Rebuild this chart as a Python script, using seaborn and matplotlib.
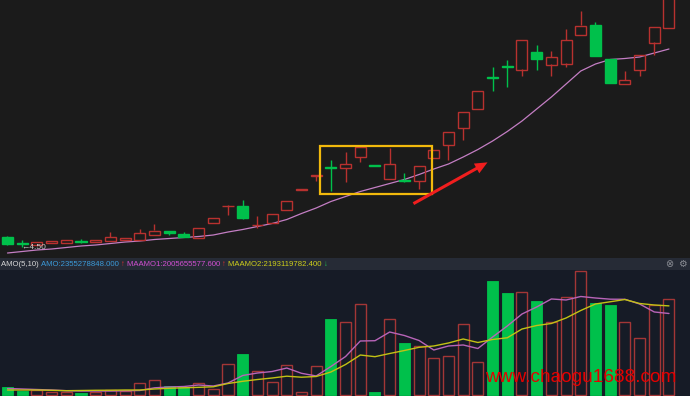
import numpy as np
import pandas as pd
import seaborn as sns
import matplotlib.pyplot as plt
from matplotlib.patches import Rectangle, FancyArrowPatch

sns.set_theme(style="dark")
plt.rcParams['font.family'] = ['Liberation Sans', 'DejaVu Sans']

# daily candles (price)
opens = [4.71, 4.58, 4.55, 4.59, 4.60, 4.63, 4.61, 4.64, 4.66, 4.65,
         4.76, 4.83, 4.77, 4.70, 5.00, 5.32, 5.33, 4.94, 4.98, 5.24,
         5.65, 5.93, 6.11, 6.08, 6.30, 6.14, 5.87, 5.84, 5.83, 6.28,
         6.56, 6.89, 7.28, 7.91, 8.12, 8.06, 8.40, 8.16, 8.18, 8.75,
         8.95, 8.28, 7.78, 8.05, 8.60, 8.90]
highs = [4.72, 4.65, 4.61, 4.63, 4.65, 4.67, 4.65, 4.81, 4.70, 4.87,
         4.96, 4.83, 4.80, 4.89, 5.09, 5.34, 5.44, 5.13, 5.18, 5.42,
         5.66, 5.94, 6.25, 6.41, 6.50, 6.14, 6.48, 5.99, 6.13, 6.45,
         6.81, 7.20, 7.64, 8.11, 8.25, 8.64, 8.55, 8.43, 8.86, 9.22,
         9.00, 8.28, 8.04, 8.35, 8.90, 9.75]
lows = [4.56, 4.50, 4.55, 4.59, 4.60, 4.59, 4.61, 4.64, 4.66, 4.65,
        4.76, 4.75, 4.71, 4.70, 5.00, 5.15, 5.06, 4.88, 4.98, 5.24,
        5.65, 5.83, 5.62, 5.80, 6.20, 6.13, 5.87, 5.81, 5.68, 6.28,
        6.24, 6.65, 7.28, 7.63, 7.70, 7.93, 8.05, 7.93, 8.10, 8.75,
        8.34, 7.80, 7.78, 7.93, 8.35, 8.90]
closes = [4.57, 4.57, 4.61, 4.63, 4.65, 4.62, 4.65, 4.70, 4.70, 4.79,
          4.84, 4.78, 4.72, 4.89, 5.09, 5.33, 5.10, 4.95, 5.18, 5.42,
          5.66, 5.94, 6.08, 6.17, 6.50, 6.13, 6.16, 5.83, 6.13, 6.45,
          6.81, 7.20, 7.64, 7.90, 8.11, 8.64, 8.28, 8.31, 8.64, 8.94,
          8.34, 7.80, 7.85, 8.35, 8.90, 9.75]
price_ma = [4.39, 4.42, 4.45, 4.47, 4.50, 4.53, 4.55, 4.58, 4.61, 4.63,
            4.66, 4.68, 4.70, 4.72, 4.75, 4.81, 4.86, 4.92, 4.98, 5.06,
            5.18, 5.29, 5.42, 5.52, 5.62, 5.70, 5.78, 5.86, 5.96, 6.07,
            6.17, 6.31, 6.46, 6.63, 6.82, 7.03, 7.27, 7.51, 7.77, 8.03,
            8.17, 8.26, 8.28, 8.31, 8.39, 8.47]

# turnover amount (unit: 1e8 yuan) and its moving averages
amo = [2.04, 1.06, 1.23, 0.81, 0.74, 0.57, 0.81, 1.23, 0.91, 2.88,
       3.69, 2.21, 1.89, 2.88, 1.40, 7.56, 10.09, 5.91, 3.20, 7.31,
       0.66, 7.14, 18.63, 18.04, 22.40, 0.81, 18.63, 12.72, 12.06, 9.11,
       9.60, 17.47, 8.20, 28.13, 25.03, 25.35, 23.13, 18.04, 24.19, 30.52,
       22.57, 22.22, 18.04, 13.95, 22.15, 23.55278848]
amo_ma1 = [1.60, 1.48, 1.35, 1.23, 1.06, 0.98, 0.98, 0.98, 1.03, 1.11,
           1.77, 1.97, 2.09, 2.46, 2.21, 2.95, 4.80, 5.41, 5.78, 6.64,
           5.34, 4.68, 7.01, 9.47, 13.29, 13.36, 15.50, 14.64, 13.41, 11.07,
           12.06, 12.31, 11.44, 14.27, 16.98, 19.93, 21.66, 23.63, 23.38, 24.24,
           23.87, 23.58, 23.55, 22.40, 20.43, 20.056555776]
amo_ma2 = [1.23, 1.23, 1.23, 1.16, 1.06, 1.11, 1.16, 1.18, 1.23, 1.23,
           1.48, 1.65, 1.77, 1.89, 2.02, 2.83, 3.37, 3.81, 4.18, 4.63,
           4.38, 4.55, 5.66, 7.51, 9.84, 9.43, 10.21, 10.95, 11.74, 12.06,
           12.80, 13.78, 12.92, 13.66, 14.08, 16.24, 17.10, 17.60, 18.95, 20.80,
           22.40, 22.94, 23.50, 22.52, 22.15, 21.931197824]

# annotations drawn on the picture (data coords)
box_x, box_y, box_w, box_h = 21.26, 5.57, 7.6, 0.95
arrow_from, arrow_to = (27.45, 5.35), (32.82, 6.23)

RED = "#b8312f"
GREEN = "#00c04b"
W, H = 690, 396

df = pd.DataFrame({"open": opens, "high": highs, "low": lows, "close": closes,
                   "ma": price_ma, "amo": amo, "ma1": amo_ma1, "ma2": amo_ma2})
df["idx"] = np.arange(len(df))
df["up"] = df["close"] >= df["open"]

fig = plt.figure(figsize=(W / 100, H / 100), dpi=100, facecolor="#262b36")
ax = fig.add_axes([0, (H - 258) / H, 1, 258 / H], facecolor="#1b1b1b")
axv = fig.add_axes([0, 0, 1, 126 / H], facecolor="#161b26")

for a in (ax, axv):
    a.set_xlim(-0.51, 46.43)
    a.set_xticks([])
    a.set_yticks([])
    a.grid(False)
    for s in a.spines.values():
        s.set_visible(False)

ax.set_ylim(4.29, 9.45)
axv.set_ylim(-0.246, 30.76)

# moving average under the candles
sns.lineplot(data=df, x="idx", y="ma", ax=ax, color="#c47ec4", lw=0.9, zorder=1)

# candles
body_lo = df[["open", "close"]].min(axis=1)
body_hi = df[["open", "close"]].max(axis=1)
body_h = (body_hi - body_lo).clip(lower=0.012)
up = df["up"]
wick_col = np.where(up, RED, GREEN)
ax.vlines(df["idx"], body_hi, df["high"], color=wick_col, lw=1, zorder=2)
ax.vlines(df["idx"], df["low"], body_lo, color=wick_col, lw=1, zorder=2)
ax.bar(df["idx"][up], body_h[up], bottom=body_lo[up], width=0.75,
       facecolor="none", edgecolor=RED, lw=1, zorder=3)
ax.bar(df["idx"][~up], body_h[~up], bottom=body_lo[~up], width=0.75,
       facecolor=GREEN, edgecolor=GREEN, lw=1, zorder=3)

# lowest price marker
low_i = int(df["low"].idxmin())
ax.text(low_i - 0.05, df["low"].min(), "\u2190" + f"{df['low'].min():.2f}",
        ha="left", va="center", fontsize=6, color="#c8c8c8", zorder=4)

ax.add_patch(Rectangle((box_x, box_y), box_w, box_h, fill=False,
                       edgecolor="#f2b90c", lw=1.6, zorder=5))
ax.add_patch(FancyArrowPatch(arrow_from, arrow_to, mutation_scale=1,
                             arrowstyle="simple,head_length=9,head_width=8,tail_width=2.2",
                             color="#f01e1e", lw=0, zorder=5))

# amount panel
axv.bar(df["idx"][up], df["amo"][up], width=0.75, facecolor="none",
        edgecolor="#a33636", lw=1, zorder=2)
axv.bar(df["idx"][~up], df["amo"][~up], width=0.75, facecolor=GREEN,
        edgecolor=GREEN, lw=0.6, zorder=2)
sns.lineplot(data=df, x="idx", y="ma1", ax=axv, color="#b864b8", lw=1, zorder=3)
sns.lineplot(data=df, x="idx", y="ma2", ax=axv, color="#c2c214", lw=1, zorder=3)
for a in (ax, axv):
    a.set_xlabel("")
    a.set_ylabel("")

axv.text(485 / W, 14 / 126, "www.chaogu1688.com", transform=axv.transAxes,
         fontsize=13.7, color="#e60000", ha="left", va="baseline", zorder=6)

# header line of the amount panel, each piece chained after the previous one
pieces = [("AMO(5,10) ", "#d8d8d8"),
          (f"AMO:{amo[-1] * 1e8:.3f} ", "#3b9ad9"),
          ("\u2191 ", "#e03030"),
          (f"MAAMO1:{amo_ma1[-1] * 1e8:.3f} ", "#d14fd1"),
          ("\u2191 ", "#e03030"),
          (f"MAAMO2:{amo_ma2[-1] * 1e8:.3f} ", "#cfcf1a"),
          ("\u2193", "#20c050")]
prev = fig.text(1 / W, 1 - 268 / H, pieces[0][0], color=pieces[0][1],
                fontsize=5.6, ha="left", va="bottom")
for txt, col in pieces[1:]:
    prev = ax.annotate(txt, xy=(1, 0), xycoords=prev, color=col, fontsize=5.6,
                       ha="left", va="bottom", annotation_clip=False)

fig.text(669 / W, 1 - 264 / H, "\u2297", color="#8a8d94", fontsize=7,
         ha="center", va="center", family="DejaVu Sans")
fig.text(682 / W, 1 - 264 / H, "\u2699", color="#8a8d94", fontsize=7,
         ha="center", va="center", family="DejaVu Sans")

fig.savefig("out.png", dpi=100, facecolor=fig.get_facecolor())
